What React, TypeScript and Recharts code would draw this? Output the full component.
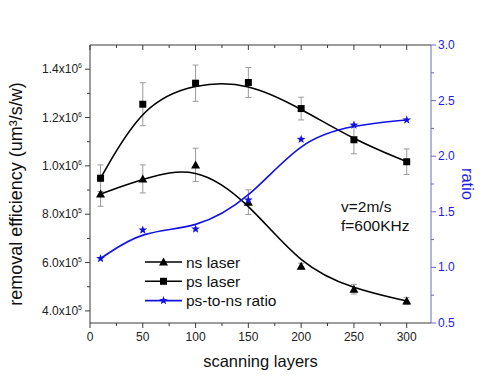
import React from 'react';
import { LineChart, Line, XAxis, YAxis, ErrorBar, Legend, Label } from 'recharts';

// scanning layers (x)
const layers = [10, 50, 100, 150, 200, 250, 300];
// removal efficiency, um^3/s/w (left axis)
const nsLaser = [884000, 946000, 1004000, 850000, 585000, 490000, 441000];
const nsErr = [51000, 58000, 69000, 51000, 12000, 20000, 15000];
const psLaser = [949000, 1255000, 1342000, 1345000, 1237000, 1108000, 1017000];
const psErr = [55000, 89000, 75000, 62000, 47000, 58000, 53000];
// ps-to-ns ratio (right axis)
const ratio = [1.08, 1.336, 1.345, 1.606, 2.152, 2.28, 2.326];

const xTicks = [0, 25, 50, 75, 100, 125, 150, 175, 200, 225, 250, 275, 300];
const leftTicks = [400000, 500000, 600000, 700000, 800000, 900000, 1000000, 1100000, 1200000, 1300000, 1400000];
const rightTicks = [0.5, 0.75, 1, 1.25, 1.5, 1.75, 2, 2.25, 2.5, 2.75, 3];
const legendLabels = ['ns laser', 'ps laser', 'ps-to-ns ratio'];
const notes = ['v=2m/s', 'f=600KHz'];

const data = layers.map((l, i) => ({
  layers: l,
  ns: nsLaser[i],
  nsErr: nsErr[i],
  ps: psLaser[i],
  psErr: psErr[i],
  ratio: ratio[i],
}));

const FONT = '"Liberation Sans", Arial, sans-serif';
const AXIS = '#3a3a3a';
const BLUE = '#1212e0';
const BLUE_AXIS = '#6a6ac8';
const BLUE_TEXT = '#1e1ee0';

const trianglePath = (cx: number, cy: number) =>
  `M${cx},${cy - 4.5}L${cx + 4.5},${cy + 3.5}L${cx - 4.5},${cy + 3.5}Z`;
const squarePath = (cx: number, cy: number) =>
  `M${cx - 3.5},${cy - 3.5}h7v7h-7Z`;
const starPath = (cx: number, cy: number) => {
  const pts: string[] = [];
  for (let k = 0; k < 10; k++) {
    const r = k % 2 === 0 ? 4.6 : 1.9;
    const a = -Math.PI / 2 + (k * Math.PI) / 5;
    pts.push(`${(cx + r * Math.cos(a)).toFixed(2)},${(cy + r * Math.sin(a)).toFixed(2)}`);
  }
  return `M${pts.join('L')}Z`;
};

const makeDot = (shape: (cx: number, cy: number) => string, color: string, tag: string) =>
  (props: any) => {
    const { cx, cy, index } = props;
    if (cx == null || cy == null) return <g key={`${tag}${index}`} />;
    return <path key={`${tag}${index}`} d={shape(cx, cy)} fill={color} />;
  };

const BottomTick = (props: any) => {
  const { x, y, payload } = props;
  const major = payload.value % 50 === 0;
  return (
    <g>
      <line x1={x} x2={x} y1={y} y2={y + (major ? 5 : 3)} stroke={AXIS} />
      {major && (
        <text x={x} y={y + 18} textAnchor="middle" fontSize={12} fill="#222" fontFamily={FONT}>
          {payload.value}
        </text>
      )}
    </g>
  );
};

const TopTick = (props: any) => {
  const { x, y, payload } = props;
  const major = payload.value % 50 === 0;
  return <line x1={x} x2={x} y1={y} y2={y + (major ? 5 : 3)} stroke={AXIS} />;
};

const LeftTick = (props: any) => {
  const { x, y, payload } = props;
  const v = payload.value;
  const major = Math.round(v / 100000) % 2 === 0;
  const exp = Math.floor(Math.log10(v));
  const mant = (v / Math.pow(10, exp)).toFixed(1);
  return (
    <g>
      <line x1={x - (major ? 5 : 3)} x2={x} y1={y} y2={y} stroke={AXIS} />
      {major && (
        <text x={x - 8} y={y + 4} textAnchor="end" fontSize={12} fill="#222" fontFamily={FONT}>
          {mant}x10<tspan dy={-5} fontSize={7}>{exp}</tspan>
        </text>
      )}
    </g>
  );
};

const RightTick = (props: any) => {
  const { x, y, payload } = props;
  const major = Math.round(payload.value * 100) % 50 === 0;
  return (
    <g>
      <line x1={x} x2={x + (major ? 5 : 3)} y1={y} y2={y} stroke={BLUE_AXIS} />
      {major && (
        <text x={x + 7} y={y + 4} textAnchor="start" fontSize={12} fill={BLUE_TEXT} fontFamily={FONT}>
          {payload.value.toFixed(1)}
        </text>
      )}
    </g>
  );
};

const legendShapes = [
  { shape: trianglePath, color: '#000' },
  { shape: squarePath, color: '#000' },
  { shape: starPath, color: BLUE },
];

const LegendBox = () => (
  <svg width={150} height={62} style={{ display: 'block' }}>
    {legendLabels.map((label, i) => {
      const cy = 12 + i * 19.3;
      const s = legendShapes[i];
      return (
        <g key={label}>
          <line x1={5} x2={42} y1={cy} y2={cy} stroke={s.color} strokeWidth={1.6} />
          <path d={s.shape(23.5, cy)} fill={s.color} />
          <text x={46} y={cy + 5.5} fontSize={15.5} fill="#111" fontFamily={FONT}>
            {label}
          </text>
        </g>
      );
    })}
  </svg>
);

export default function App() {
  return (
    <div style={{ position: 'absolute', left: 0, top: 0, width: 500, height: 386, background: '#fff' }}>
      <LineChart
        width={500}
        height={386}
        data={data}
        margin={{ top: 40, right: 0, bottom: 0, left: 0 }}
        style={{ fontFamily: FONT }}
      >
        <XAxis
          xAxisId="b"
          dataKey="layers"
          type="number"
          domain={[0, 323]}
          allowDataOverflow
          ticks={xTicks}
          interval={0}
          height={63}
          tickSize={0}
          tickMargin={0}
          tickLine={false}
          axisLine={{ stroke: AXIS }}
          tick={<BottomTick />}
        >
          <Label
            content={(p: any) => {
              const vb = p.viewBox;
              return (
                <text x={vb.x + vb.width / 2} y={vb.y + 44} textAnchor="middle" fontSize={16.5} fill="#111" fontFamily={FONT}>
                  scanning layers
                </text>
              );
            }}
          />
        </XAxis>
        <XAxis
          xAxisId="t"
          orientation="top"
          dataKey="layers"
          type="number"
          domain={[0, 323]}
          allowDataOverflow
          ticks={xTicks}
          interval={0}
          height={5}
          tickSize={0}
          tickMargin={0}
          tickLine={false}
          axisLine={{ stroke: AXIS }}
          tick={<TopTick />}
        />
        <YAxis
          yAxisId="l"
          type="number"
          domain={[350000, 1500000]}
          allowDataOverflow
          ticks={leftTicks}
          interval={0}
          width={90}
          tickSize={0}
          tickMargin={0}
          tickLine={false}
          axisLine={{ stroke: AXIS }}
          tick={<LeftTick />}
        >
          <Label
            content={(p: any) => {
              const vb = p.viewBox;
              const cy = vb.y + vb.height / 2 + 10;
              return (
                <text x={22} y={cy} transform={`rotate(-90 22 ${cy})`} textAnchor="middle" fontSize={18} fill="#111" fontFamily={FONT}>
                  removal efficiency (um³/s/w)
                </text>
              );
            }}
          />
        </YAxis>
        <YAxis
          yAxisId="r"
          orientation="right"
          type="number"
          domain={[0.5, 3]}
          allowDataOverflow
          ticks={rightTicks}
          interval={0}
          width={69}
          tickSize={0}
          tickMargin={0}
          tickLine={false}
          axisLine={{ stroke: BLUE_AXIS }}
          tick={<RightTick />}
        >
          <Label
            content={(p: any) => {
              const vb = p.viewBox;
              const cy = vb.y + vb.height / 2;
              return (
                <text x={462} y={cy} transform={`rotate(90 462 ${cy})`} textAnchor="middle" fontSize={16.5} fill={BLUE_TEXT} fontFamily={FONT}>
                  ratio
                </text>
              );
            }}
          />
        </YAxis>

        <Line
          xAxisId="b"
          yAxisId="l"
          dataKey="ps"
          type="basis"
          stroke="#000"
          strokeWidth={1.6}
          dot={makeDot(squarePath, '#000', 'ps')}
          activeDot={false}
          isAnimationActive={false}
        >
          <ErrorBar dataKey="psErr" direction="y" width={3} stroke="#9a9a9a" strokeWidth={1} />
        </Line>
        <Line
          xAxisId="b"
          yAxisId="l"
          dataKey="ns"
          type="basis"
          stroke="#000"
          strokeWidth={1.6}
          dot={makeDot(trianglePath, '#000', 'ns')}
          activeDot={false}
          isAnimationActive={false}
        >
          <ErrorBar dataKey="nsErr" direction="y" width={3} stroke="#9a9a9a" strokeWidth={1} />
        </Line>
        <Line
          xAxisId="b"
          yAxisId="r"
          dataKey="ratio"
          type="basis"
          stroke={BLUE}
          strokeWidth={1.6}
          dot={makeDot(starPath, BLUE, 'r')}
          activeDot={false}
          isAnimationActive={false}
        />

        <Legend
          layout="vertical"
          align="center"
          verticalAlign="middle"
          wrapperStyle={{ left: 140, top: 250, width: 150 }}
          content={() => <LegendBox />}
        />

        {notes.map((n, i) => (
          <text key={n} x={341} y={212 + i * 18.5} fontSize={15.5} fill="#111" fontFamily={FONT}>
            {n}
          </text>
        ))}
      </LineChart>
    </div>
  );
}
